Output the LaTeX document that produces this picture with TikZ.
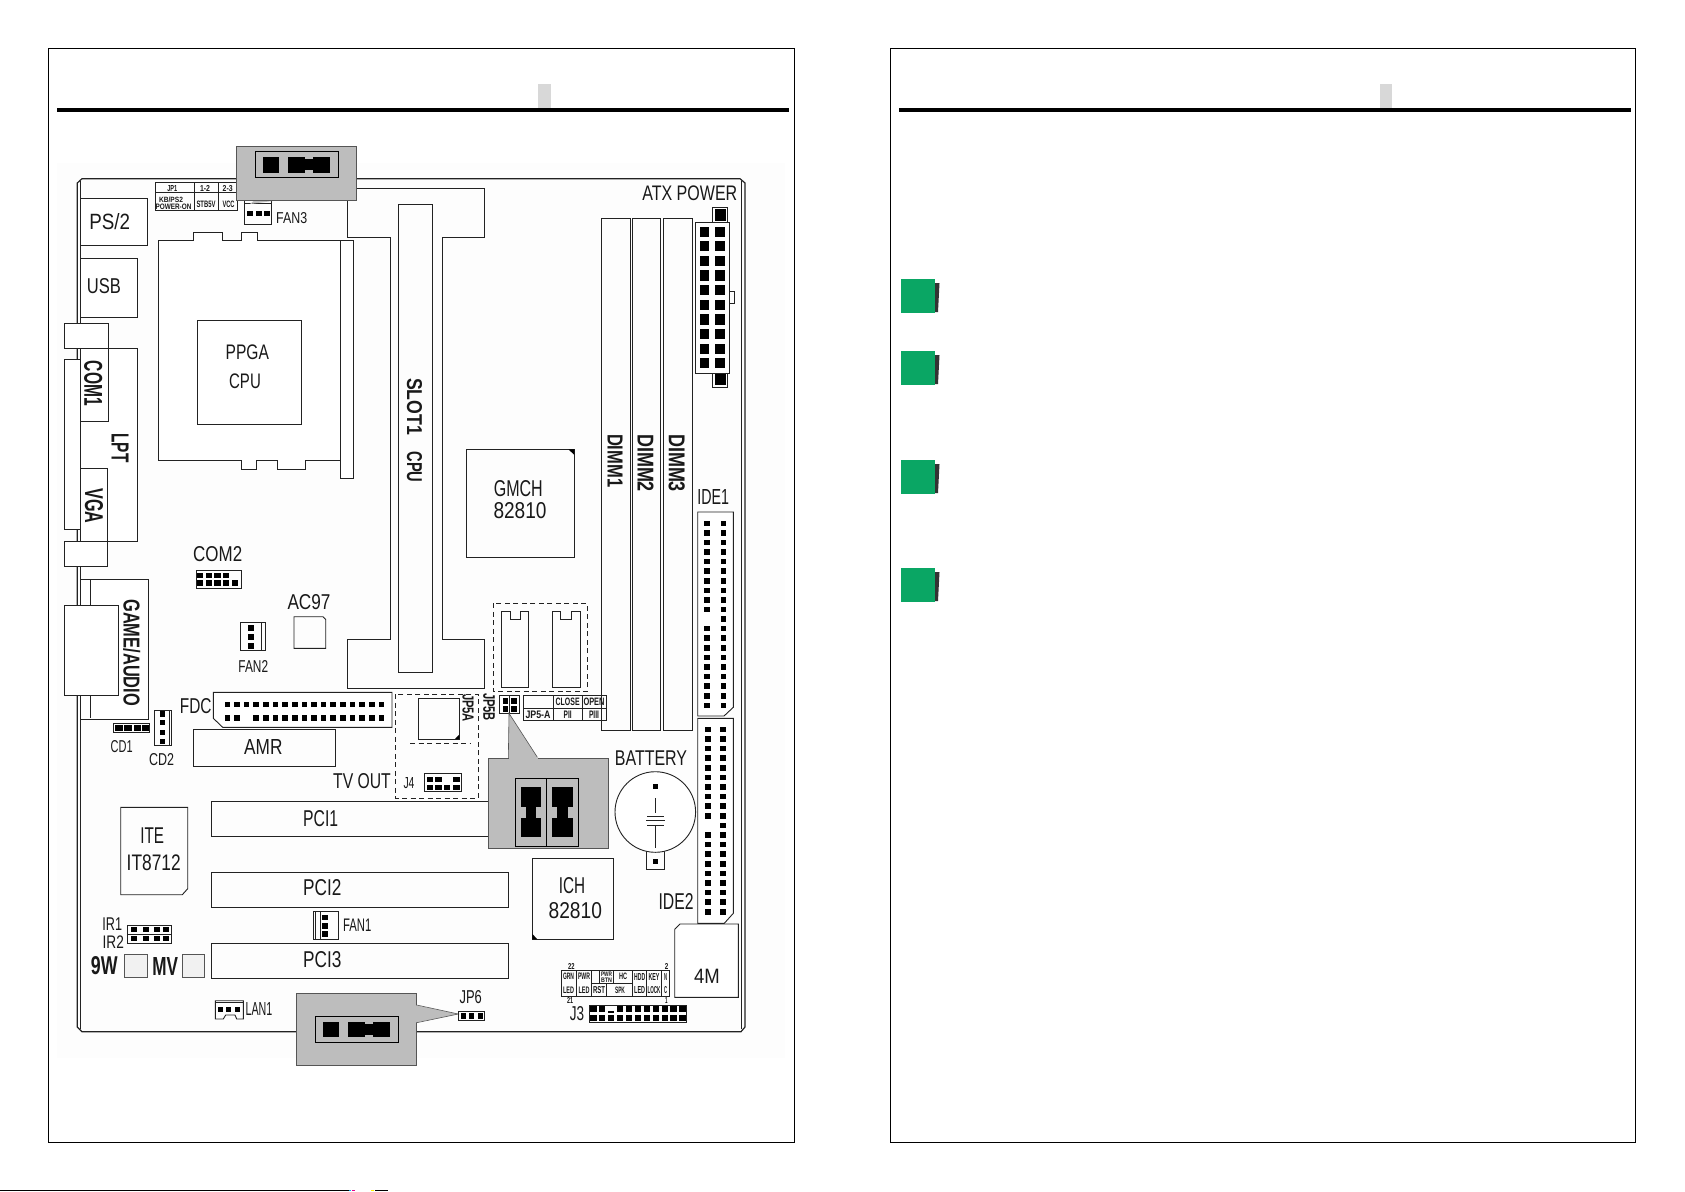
\documentclass[tikz,border=0pt]{standalone}
\usepackage{graphicx}
\usepackage{fontspec}
\setmainfont{Liberation Sans}
\definecolor{jumpgray}{HTML}{BDBDBD}
\definecolor{tabgray}{HTML}{D8D8D8}
\definecolor{bulletgreen}{HTML}{0AA664}
\definecolor{ink}{HTML}{222222}
\definecolor{inksoft}{HTML}{555555}
\definecolor{paleback}{HTML}{FDFDFD}
\definecolor{paleswitch}{HTML}{F1F1F1}
\tikzset{
  lbl/.style={inner sep=0pt,outer sep=0pt,text=black!90},
  part/.style={draw=ink,line width=0.9pt,fill=white},
  wire/.style={draw=ink,line width=0.9pt},
  thin part/.style={draw=ink,line width=0.7pt},
  dashbox/.style={draw=ink,line width=0.8pt,dash pattern=on 5pt off 3.5pt},
  frame/.style={draw=black,line width=1pt},
  headrule/.style={draw=black,line width=3.2pt},
  jump/.style={fill=jumpgray,draw=inksoft,line width=0.6pt},
  jumpin/.style={draw=black,line width=0.8pt},
  switchbox/.style={draw=inksoft,line width=0.8pt,fill=paleswitch}
}
\newcommand\lab[7]{\node[lbl,rotate=#6] (#1) at (#2,#3) {\resizebox{#4pt}{#5pt}{#7}};}
\newcommand\labb[7]{\node[lbl,rotate=#6] (#1) at (#2,#3) {\resizebox{#4pt}{#5pt}{\textbf{#7}}};}
\newcommand\pin[4]{\fill[black] (#1-#3/2,#2-#4/2) rectangle ++(#3,#4);}
\newcommand\greenmark[1]{%
  \fill[black!80] (934,#1+4) -- (939.5,#1+4) -- (938,#1+33) -- (934,#1+33) -- cycle;
  \fill[bulletgreen] (900.5,#1) rectangle (934.5,#1+34);}
\begin{document}
\begin{tikzpicture}[x=1pt,y=-1pt]
\useasboundingbox (0,0) rectangle (1685,1191);
\fill[white] (0,0) rectangle (1685,1191);
% page frames
\draw[frame] (48,48) rectangle (794,1142);
\draw[frame] (890,48) rectangle (1635,1142);
\fill[tabgray] (538,84) rectangle (551,108);
\fill[tabgray] (1380,84) rectangle (1392,108);
\draw[headrule] (57,110) -- (789,110);
\draw[headrule] (899,110) -- (1631,110);
\greenmark{279}
\greenmark{351}
\greenmark{460}
\greenmark{568}
% stray line at the foot
\draw[black,line width=1pt] (0,1190.5) -- (349,1190.5);
\draw[black,line width=1pt] (375,1190.5) -- (388,1190.5);
\fill[cyan] (349,1190) rectangle (351,1191);
\fill[magenta] (352,1190) rectangle (355,1191);
\fill[yellow] (371,1190) rectangle (374,1191);
% board
\fill[paleback] (57,163) rectangle (785,1058);
\draw[wire,line width=1.2pt] (77.3,183) -- (82,178.7) -- (740,178.7) -- (745,183) -- (745,1027) -- (741,1031.7) -- (82,1031.7) -- (77.3,1027) -- cycle;
\draw[wire] (80.7,181) -- (80.7,1029);
\draw[wire] (741.7,181) -- (741.7,1029);
% JP1 table
\draw[thin part] (155,182.7) rectangle (237.7,210);
\draw[thin part] (155,192.7) -- (237.7,192.7);
\draw[thin part] (194.3,182.7) -- (194.3,210);
\draw[thin part] (218.7,182.7) -- (218.7,210);
\labb{jpa}{172.3}{188.3}{10}{6}{0}{JP1}
\labb{jpb}{205}{188.3}{10}{6}{0}{1-2}
\labb{jpc}{227.7}{188.3}{10}{6}{0}{2-3}
\labb{jpd}{171}{199.5}{24}{5.5}{0}{KB/PS2}
\labb{jpe}{173.5}{207}{36}{5.5}{0}{POWER-ON}
\labb{jpf}{206}{204}{19}{6.5}{0}{STB5V}
\labb{jpg}{228.5}{204}{12}{6.5}{0}{VCC}
% rear panel
\draw[part] (80.7,198) rectangle (147.3,245.3);
\lab{ps}{109.7}{221.7}{40.7}{16}{0}{PS/2}
\draw[part] (80.7,258.3) rectangle (137.3,317.7);
\lab{usb}{104}{285.7}{34}{15}{0}{USB}
\draw[part] (80.7,348.3) rectangle (137.3,541.5);
\draw[part] (64.3,359.3) rectangle (80.7,529);
\draw[part] (64.3,323.3) rectangle (108,348.3);
\draw[part] (80.7,348.3) rectangle (108,421.7);
\labb{com}{93.3}{383.3}{45}{18}{-90}{COM1}
\labb{lpt}{120}{448}{29}{17}{-90}{LPT}
\draw[part] (80.7,468.3) rectangle (107.7,541.7);
\draw[part] (64.3,541.7) rectangle (107.7,566.7);
\labb{vga}{94}{506}{35}{18}{-90}{VGA}
\draw[part] (80,579.3) rectangle (148.3,719.3);
\draw[wire] (90.7,579.3) -- (90.7,718);
\draw[part] (64.3,605.7) rectangle (118,695.7);
\labb{game}{131.7}{652.7}{106.7}{16.7}{-90}{GAME/AUDIO}
% CPU socket
\draw[part] (340.7,240.3) rectangle (353.7,478.3);
\draw[part] (158.3,240.3) -- (193.3,240.3) -- (193.3,232.3) -- (222,232.3) -- (222,240.3) -- (241.7,240.3) -- (241.7,232.3) -- (257.3,232.3) -- (257.3,240.3) -- (340.7,240.3) -- (340.7,460.7) -- (305.7,460.7) -- (305.7,469.3) -- (277.3,469.3) -- (277.3,460.7) -- (256.7,460.7) -- (256.7,469.3) -- (241.7,469.3) -- (241.7,460.7) -- (158.3,460.7) -- cycle;
\draw[part] (197.3,320.7) rectangle (301.3,424.7);
\lab{ppga}{247.3}{352.7}{43.3}{14.7}{0}{PPGA}
\lab{cpua}{245}{381.7}{31.7}{14.7}{0}{CPU}
% Slot 1
\draw[wire] (347.3,188.7) -- (484.3,188.7) -- (484.3,237.3) -- (442.3,237.3) -- (442.3,639) -- (484.6,639) -- (484.6,688.3) -- (347.3,688.3) -- (347.3,639) -- (390,639) -- (390,237.3) -- (347.3,237.3) -- cycle;
\draw[wire] (398.7,204) rectangle (432.3,672.3);
\labb{slot}{414.5}{406.5}{57}{15}{-90}{SLOT1}
\labb{cpub}{414.5}{467}{31}{15}{-90}{CPU}
% FAN3
\draw[wire] (244.7,200) rectangle (271.7,224.3);
\draw[wire] (244.7,203.5) -- (271.7,203.5);
\pin{250.3}{213.5}{6}{5.5}
\pin{258.8}{213.5}{6}{5.5}
\pin{266.7}{213.5}{6}{5.5}
\lab{fanc}{291.7}{218}{31}{11}{0}{FAN3}
% DIMM
\draw[wire] (601,218) rectangle (630.3,730.7);
\draw[wire] (632.7,218) rectangle (660.7,730.7);
\draw[wire] (663.3,218) rectangle (692,730.7);
\labb{dima}{615}{460.7}{53.3}{15}{-90}{DIMM1}
\labb{dimb}{645.7}{463}{58}{16}{-90}{DIMM2}
\labb{dimc}{676.7}{463}{58}{16}{-90}{DIMM3}
% ATX
\lab{atx}{689.8}{193.3}{95}{14.7}{0}{ATX POWER}
\draw[wire] (712.7,207.7) rectangle (727.7,222.3);
\draw[wire] (712.7,373.3) rectangle (727.7,387.3);
\fill[black] (715,209.3) rectangle (726,220.7);
\fill[black] (715,373.5) rectangle (726,385);
\draw[wire] (729.3,291.7) rectangle (734.3,303.3);
\draw[wire] (695.7,222.3) rectangle (729.3,373.3);
\foreach \i in {0,...,9}{
  \pin{704.7}{231.7+14.62*\i}{9.5}{10.3}
  \pin{720}{231.7+14.62*\i}{10}{10.3}
}
% GMCH
\draw[wire] (466.7,449.3) rectangle (574.3,557.3);
\fill[black] (568.5,449.3) -- (574.3,449.3) -- (574.3,455) -- cycle;
\lab{gmch}{518.3}{488.3}{49}{16}{0}{GMCH}
\lab{gmchn}{520}{511}{53}{16}{0}{82810}
% JP5 region
\draw[dashbox] (493.3,603.3) rectangle (587.3,691.7);
\draw[wire] (501.3,611.7) -- (510,611.7) -- (510,619.3) -- (520,619.3) -- (520,611.7) -- (528.7,611.7) -- (528.7,687.3) -- (501.3,687.3) -- cycle;
\draw[wire] (552.7,611.7) -- (560.7,611.7) -- (560.7,619.3) -- (571,619.3) -- (571,611.7) -- (580.3,611.7) -- (580.3,687.3) -- (552.7,687.3) -- cycle;
\draw[wire] (499.3,695.7) rectangle (519.3,713.3);
\draw[wire] (509.3,695.7) -- (509.3,713.3);
\pin{505.5}{701.2}{5.8}{5.8}
\pin{513.7}{701.2}{5.8}{5.8}
\pin{505.5}{709.2}{5.8}{6.2}
\pin{513.7}{709.2}{5.8}{6.2}
\labb{jpfiveb}{489}{707}{28}{11.5}{-90}{JP5B}
\labb{jpfivea}{468}{708}{28}{11}{-90}{JP5A}
\draw[thin part] (523.3,695) rectangle (606,720.7);
\draw[thin part] (523.3,708) -- (606,708);
\draw[thin part] (553.3,695) -- (553.3,720.7);
\draw[thin part] (582.3,695) -- (582.3,720.7);
\labb{tclose}{567.7}{701.7}{24}{7.5}{0}{CLOSE}
\labb{topen}{594}{701.7}{21}{7.5}{0}{OPEN}
\labb{tjp}{538}{714.3}{25}{7.5}{0}{JP5-A}
\labb{tp}{567.7}{714.3}{8}{7.5}{0}{PII}
\labb{tpp}{594}{714.3}{10}{7.5}{0}{PIII}
% IDE1
\draw[part] (697.7,512) -- (733.3,512) -- (733.3,707.3) -- (724,716) -- (697.7,716) -- cycle;
\foreach \i in {0,...,19}{
  \ifnum\i=10 \else \pin{707.3}{523.3+9.58*\i}{5.8}{5.6} \fi
  \pin{723.3}{523.3+9.58*\i}{5.4}{5.6}
}
\lab{ideb}{713.3}{496.7}{31.7}{15}{0}{IDE1}
% IDE2
\draw[part] (697.7,718.3) -- (733.3,718.3) -- (733.3,913.3) -- (724.3,923.3) -- (697.7,923.3) -- cycle;
\foreach \i in {0,...,19}{
  \ifnum\i=10 \else \pin{707.7}{729.3+9.6*\i}{5.8}{5.6} \fi
  \pin{723}{729.3+9.6*\i}{5.4}{5.6}
}
\lab{idec}{676}{901}{35}{16}{0}{IDE2}
% 4M
\draw[part] (674.7,929.3) -- (680,924) -- (738.3,924) -- (738.3,997.3) -- (674.7,997.3) -- cycle;
\lab{fourm}{707}{976}{25.7}{14.3}{0}{4M}
% battery
\lab{bat}{651}{758.3}{72.3}{14.7}{0}{BATTERY}
\draw[wire] (646.3,848) rectangle (664.7,869.3);
\draw[part] (655.3,812) circle (40.3);
\pin{655.3}{786.7}{5}{5}
\pin{655.3}{861.7}{5}{5}
\draw[wire] (655.3,798.3) -- (655.3,813.3);
\draw[wire] (647,816) -- (663.5,816);
\draw[wire] (646,820.5) -- (665,820.5);
\draw[wire] (647,825) -- (663.5,825);
\draw[wire] (655.3,825) -- (655.3,848.3);
% ICH
\draw[wire] (532.3,858.3) rectangle (613.3,939.3);
\fill[black] (532.3,934) -- (532.3,939.3) -- (537.5,939.3) -- cycle;
\lab{ich}{572}{886}{26.3}{16}{0}{ICH}
\lab{ichn}{575.3}{911}{53.3}{16}{0}{82810}
% TV dashed region
\draw[dashbox] (395.7,694.3) rectangle (478.3,798.3);
\draw[dashbox] (410,743.3) -- (470,743.3);
\draw[wire] (418.7,698.3) rectangle (459.3,739);
\fill[black] (455,739) -- (459.3,739) -- (459.3,734.5) -- cycle;
% FDC
\draw[part] (213.3,692.3) -- (392,692.3) -- (392,727.3) -- (222.7,727.3) -- (213.3,718.3) -- cycle;
\foreach \i in {0,...,16}{
  \pin{227.3+9.63*\i}{704.3}{5.6}{5}
  \ifnum\i=2 \else \pin{227.3+9.63*\i}{717.7}{5.6}{5.6} \fi
}
\lab{fdc}{195.7}{706}{31.7}{15}{0}{FDC}
% COM2
\lab{comb}{217.7}{554}{49}{15}{0}{COM2}
\draw[wire] (196,570.3) rectangle (241,588);
\foreach \i in {0,...,3}{\pin{200+8.7*\i}{575.5}{6.2}{5.2}}
\foreach \i in {0,...,4}{\pin{200+8.7*\i}{583}{6.2}{5.4}}
% AC97
\lab{ac}{309}{602.3}{43}{15}{0}{AC97}
\draw[wire] (294,616.7) -- (323,616.7) -- (325.7,619.5) -- (325.7,648.3) -- (294,648.3) -- cycle;
% FAN2
\draw[wire] (240.7,622.7) rectangle (265.3,650.7);
\draw[wire] (261.7,622.7) -- (261.7,650.7);
\pin{251.3}{627.7}{6}{5.6}
\pin{251.3}{636.7}{6}{5.6}
\pin{251.3}{645.7}{6}{5.6}
\lab{fanb}{253.3}{666}{29.7}{12}{0}{FAN2}
% CD1 CD2
\draw[wire] (113.3,723.3) rectangle (149.3,732.7);
\pin{119}{728}{7.5}{6.5}
\pin{128}{728}{7.5}{6.5}
\pin{137.7}{728}{7}{6.5}
\pin{145.7}{728}{6.5}{6.5}
\lab{cda}{121.7}{746.7}{22}{12}{0}{CD1}
\draw[wire] (154,710) rectangle (171.7,745.7);
\draw[wire] (169.3,710) -- (169.3,745.7);
\pin{162.3}{714}{5.6}{5.4}
\pin{162.3}{722.7}{5.6}{5.4}
\pin{162.3}{732.3}{5.6}{5.4}
\pin{162.3}{741.7}{5.6}{5.4}
\lab{cdb}{161.7}{760}{25}{12}{0}{CD2}
% AMR
\draw[wire] (193.3,729.3) rectangle (335.7,766);
\lab{amr}{263.3}{746.7}{38.3}{15}{0}{AMR}
\lab{tv}{362}{781}{57.7}{15}{0}{TV OUT}
% J4
\lab{jfour}{409}{783.3}{11}{11}{0}{J4}
\draw[wire] (424.7,773.7) rectangle (461.7,791.7);
\foreach \i in {430,438.3,456.3}{\pin{\i}{779}{6.6}{5}}
\foreach \i in {430,438.3,447,456.3}{\pin{\i}{787.3}{6.6}{5}}
% PCI
\draw[wire] (211.3,801.3) rectangle (500,836.3);
\lab{pcia}{320.7}{818.3}{35}{16}{0}{PCI1}
\draw[wire] (211.3,872) rectangle (508.3,907.7);
\lab{pcib}{322.3}{887.7}{38.3}{16}{0}{PCI2}
\draw[wire] (211.3,943.3) rectangle (508.3,978);
\lab{pcic}{322.3}{960}{38.3}{16}{0}{PCI3}
% ITE
\draw[wire] (120.7,807.3) -- (187.7,807.3) -- (187.7,888.7) -- (182.3,894.7) -- (120.7,894.7) -- cycle;
\lab{ite}{152.3}{835.7}{23.7}{15.7}{0}{ITE}
\lab{iten}{153.7}{863}{54}{15.7}{0}{IT8712}
% IR
\lab{ira}{112.3}{924}{19.7}{12.7}{0}{IR1}
\lab{irb}{113.3}{942}{21.3}{12.7}{0}{IR2}
\draw[wire] (127,925) rectangle (171.7,943.7);
\draw[wire] (127,934.3) -- (171.7,934.3);
\foreach \i in {134,146,156.7,166}{
  \pin{\i}{929.7}{6}{5}
  \pin{\i}{938.7}{6}{5}
}
% switches
\labb{nine}{104.3}{966}{26.7}{18}{0}{9W}
\draw[switchbox] (124.3,954) rectangle (147.7,977.3);
\labb{mv}{165.3}{966}{25.7}{18}{0}{MV}
\draw[switchbox] (182,954) rectangle (204.7,977.3);
% FAN1
\draw[wire] (313.3,911.7) rectangle (338.7,939.3);
\draw[wire] (315.7,911.7) -- (315.7,939.3);
\draw[wire] (320,911.7) -- (320,939.3);
\pin{325}{917.3}{6}{5.6}
\pin{325}{925.7}{6}{5.6}
\pin{325}{933.7}{6}{5.6}
\lab{fana}{357.3}{925}{28.3}{12.5}{0}{FAN1}
% LAN1
\draw[wire] (215.3,1000.7) -- (243.3,1000.7) -- (243.3,1019) -- (236.7,1019) -- (235,1015) -- (225.7,1015) -- (223.3,1019) -- (215.3,1019) -- cycle;
\draw[wire] (215.3,1002.7) -- (243.3,1002.7);
\pin{220.7}{1009}{5.4}{5}
\pin{228.3}{1009}{5.4}{5}
\pin{237.7}{1009}{5.4}{5}
\lab{lan}{259}{1009.3}{26.7}{13}{0}{LAN1}
% JP6
\lab{jpsix}{470.7}{996.7}{22.3}{13}{0}{JP6}
% J3 table
\draw[thin part] (561,970) rectangle (669,996);
\foreach \i in {576,591.7,632.7,646.7,661.7}{\draw[thin part] (\i,970) -- (\i,996);}
\draw[thin part] (599.3,970) -- (599.3,983.3);
\draw[thin part] (613.3,970) -- (613.3,983.3);
\draw[thin part] (606.7,983.3) -- (606.7,996);
\draw[thin part] (591.7,983.3) -- (632.7,983.3);
\labb{jtgrn}{568.5}{976.7}{11}{6.5}{0}{GRN}
\labb{jtled}{568.5}{990.3}{11}{6.5}{0}{LED}
\labb{jtpwr}{584}{976.7}{12}{6.5}{0}{PWR}
\labb{jtleda}{584}{990.3}{11}{6.5}{0}{LED}
\labb{jtpwrb}{606.5}{974.5}{11}{4.5}{0}{PWR}
\labb{jtbtn}{606.5}{980}{11}{4.5}{0}{BTN}
\labb{jthc}{623}{976.7}{8}{6.5}{0}{HC}
\labb{jtrst}{599}{990}{12}{7}{0}{RST}
\labb{jtspk}{620}{990}{10}{6.5}{0}{SPK}
\labb{jthdd}{639.7}{977}{11}{7}{0}{HDD}
\labb{jtledb}{639.7}{990}{11}{7}{0}{LED}
\labb{jtkey}{654}{977}{11}{7}{0}{KEY}
\labb{jtlock}{654}{990}{13}{7}{0}{LOCK}
\labb{jtn}{665.5}{977}{3}{7}{0}{N}
\labb{jtc}{665.5}{990}{3}{7}{0}{C}
\labb{jnb}{571.3}{966}{6.5}{6}{0}{22}
\labb{jnc}{666.7}{966}{3.5}{6}{0}{2}
\labb{jnd}{570}{1000.7}{6}{6}{0}{21}
\labb{jne}{666.3}{1000.7}{2.5}{6}{0}{1}
\lab{jthree}{577}{1014}{14.3}{14}{0}{J3}
\draw[wire] (589.3,1005.3) rectangle (686.7,1022.7);
\foreach \i in {0,...,10}{
  \ifnum\i=2 \pin{593.3+8.93*\i}{1012}{6.5}{1.6} \else \pin{593.3+8.93*\i}{1009.3}{6.5}{6} \fi
  \pin{593.3+8.93*\i}{1017.7}{6.5}{6}
}
% gray jumper callout, top
\fill[jumpgray] (254,200.7) -- (250,204) -- (275,200.7) -- cycle;
\draw[jump] (236.3,146) rectangle (356.7,200.7);
\draw[jumpin] (255.3,151.7) rectangle (338.3,177.3);
\fill[black] (262.7,156.7) rectangle (279.3,173.3);
\fill[black] (288.3,156.7) rectangle (305,173.3);
\fill[black] (305,159) rectangle (313.3,170);
\fill[black] (313.3,156.7) rectangle (330,173.3);
% gray jumper callout, JP5
\fill[jumpgray] (509,713.3) -- (538.3,758.7) -- (508.3,758.7) -- cycle;
\draw[inksoft,line width=0.6pt] (508.3,758.7) -- (509,713.3) -- (538.3,758.7);
\fill[jumpgray] (488.3,758.7) rectangle (608.7,848.3);
\draw[inksoft,line width=0.6pt] (488.3,758.7) rectangle (608.7,848.3);
\fill[jumpgray] (509,757) rectangle (538,760);
\draw[jumpin] (515.3,778.3) rectangle (578.7,846);
\draw[jumpin] (546.7,778.3) -- (546.7,846);
\fill[black] (520.7,786.7) rectangle (541.3,806.7);
\fill[black] (525.7,806.7) rectangle (536,818.3);
\fill[black] (520.7,818.3) rectangle (541.3,836.7);
\fill[black] (552,786.7) rectangle (572.7,806.7);
\fill[black] (557.3,806.7) rectangle (568.3,818.3);
\fill[black] (552,818.3) rectangle (572.7,836.7);
% gray jumper callout, JP6
\draw[jump] (296.7,993.3) rectangle (416.7,1065);
\fill[jumpgray] (415,1005) -- (458.3,1014) -- (415,1022.7) -- cycle;
\draw[inksoft,line width=0.6pt] (416.7,1005) -- (458.3,1014) -- (416.7,1022.7);
\draw[jumpin] (315.3,1016.3) rectangle (398.7,1042.3);
\fill[black] (323,1021.7) rectangle (339,1036.7);
\fill[black] (348,1021.7) rectangle (365,1036.7);
\fill[black] (365,1024) rectangle (373.3,1035);
\fill[black] (373.3,1021.7) rectangle (390,1036.7);
\draw[wire] (458.3,1011.7) rectangle (484.7,1020.7);
\pin{463.3}{1016.2}{5.4}{5.6}
\pin{471.7}{1016.2}{5.4}{5.6}
\pin{480.7}{1016.2}{5.4}{5.6}
\end{tikzpicture}
\end{document}
